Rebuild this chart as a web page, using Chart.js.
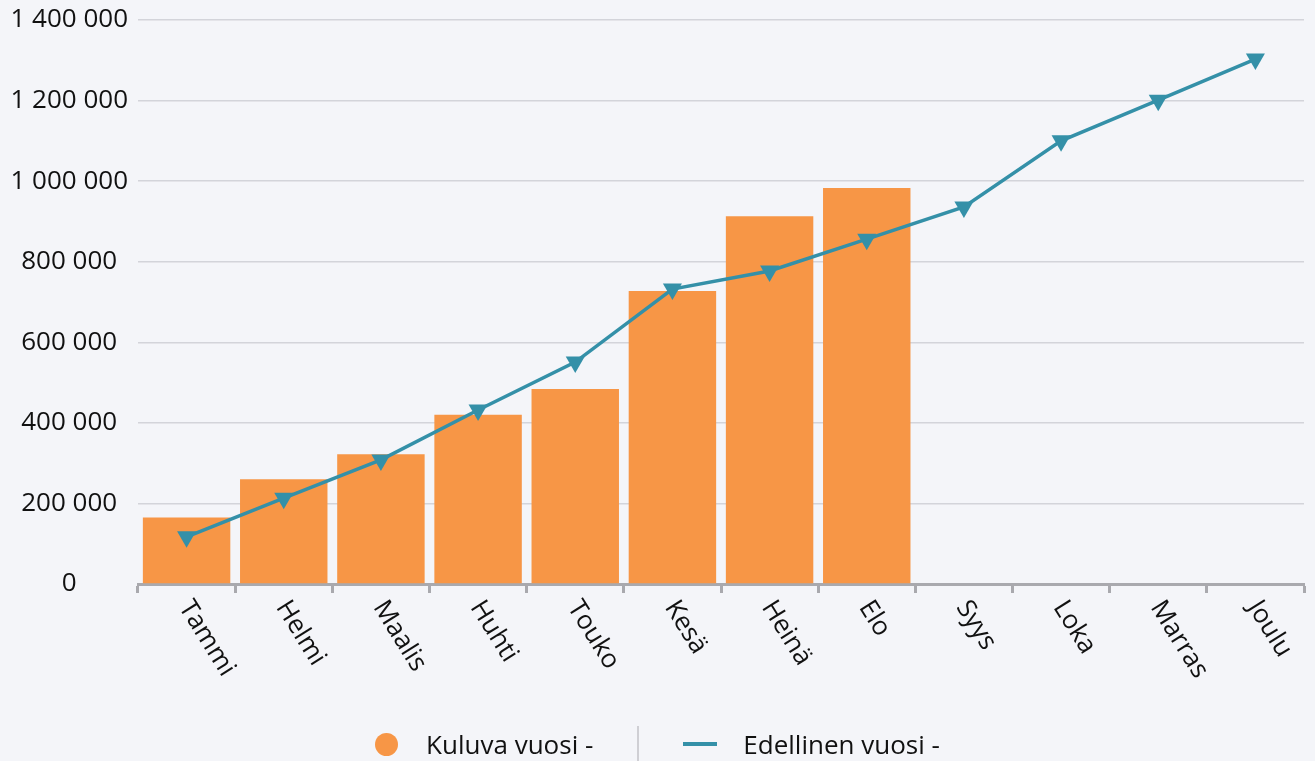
<!DOCTYPE html>
<html>
<head>
<meta charset="utf-8">
<script src="https://cdn.jsdelivr.net/npm/chart.js@4/dist/chart.umd.min.js"></script>
<style>
  html, body { margin: 0; padding: 0; background: #f4f5f9; }
  #wrap { position: relative; width: 1315px; height: 761px; }
  #legend { position: absolute; left: 0; top: 724px; width: 1315px; height: 40px;
    display: flex; justify-content: center; align-items: center;
    font-family: "Open Sans", "Noto Sans", sans-serif; font-size: 26px; color: #111; }
  .item { display: flex; align-items: center; }
  .dot { width: 23px; height: 23px; border-radius: 50%; background: #f79646; margin-right: 28px; }
  .ln { width: 34px; height: 4px; background: #3490a8; margin-right: 26px; }
  .sep { width: 2px; height: 36px; background: #cfcfd4; margin: 0 44px 0 44px; }
</style>
</head>
<body>
<div id="wrap">
  <canvas id="c" width="1315" height="761"></canvas>
  <div id="legend"></div>
</div>
<script>
const categories = ["Tammi", "Helmi", "Maalis", "Huhti", "Touko", "Kesä", "Heinä", "Elo", "Syys", "Loka", "Marras", "Joulu"];
const currentYear = [165000, 260000, 322000, 420000, 484000, 727000, 913000, 983000, null, null, null, null];
const previousYear = [117000, 213000, 308000, 432000, 551000, 732000, 777000, 856000, 936000, 1100000, 1201000, 1303000];
const seriesNames = ["Kuluva vuosi -", "Edellinen vuosi -"];
const yTicks = [0, 200000, 400000, 600000, 800000, 1000000, 1200000, 1400000];

const FONT = '"Open Sans", "Noto Sans", sans-serif';
const fmt = v => String(v).replace(/\B(?=(\d{3})+(?!\d))/g, " ");

// HTML legend
const lg = document.getElementById("legend");
lg.innerHTML =
  '<div class="item"><div class="dot"></div><span>' + seriesNames[0] + '</span></div>' +
  '<div class="sep"></div>' +
  '<div class="item"><div class="ln"></div><span>' + seriesNames[1] + '</span></div>';

const xLabelPlugin = {
  id: "xlabels",
  afterDraw(chart) {
    const ctx = chart.ctx;
    const xs = chart.scales.x;
    ctx.save();
    ctx.font = "26px " + FONT;
    ctx.fillStyle = "#111";
    ctx.textAlign = "left";
    ctx.textBaseline = "middle";
    categories.forEach((lab, i) => {
      const x = xs.getPixelForTick(i);
      ctx.save();
      ctx.translate(x - 2, xs.top + 19);
      ctx.rotate(58 * Math.PI / 180);
      ctx.fillText(lab, 0, 0);
      ctx.restore();
    });
    ctx.restore();
  }
};

new Chart(document.getElementById("c"), {
  data: {
    labels: categories,
    datasets: [
      {
        type: "line",
        label: seriesNames[1],
        data: previousYear,
        borderColor: "#3490a8",
        backgroundColor: "#3490a8",
        borderWidth: 3.5,
        pointStyle: "triangle",
        rotation: 180,
        pointRadius: 11,
        pointHoverRadius: 11,
        pointBorderWidth: 0,
        pointHoverBorderWidth: 0,
        tension: 0,
        order: 0
      },
      {
        type: "bar",
        label: seriesNames[0],
        data: currentYear,
        backgroundColor: "#f79646",
        categoryPercentage: 1.0,
        barPercentage: 0.9,
        order: 1
      }
    ]
  },
  options: {
    responsive: false,
    animation: false,
    layout: { padding: { top: 20, right: 0, left: 1, bottom: 0 } },
    plugins: { legend: { display: false }, tooltip: { enabled: false } },
    scales: {
      x: {
        offset: true,
        afterFit: s => { s.height = 177; s.paddingLeft = 0; s.paddingRight = 0; },
        grid: { offset: true, drawOnChartArea: false, drawTicks: true, tickLength: 9, tickWidth: 3, tickColor: "#a9a9ae" },
        border: { display: true, color: "#a9a9ae", width: 3 },
        ticks: { display: false }
      },
      y: {
        min: 0, max: 1400000,
        afterFit: s => { s.width = 137; s.paddingTop = 0; s.paddingBottom = 0; },
        afterBuildTicks: s => { s.ticks = yTicks.map(v => ({ value: v })); },
        grid: { color: "#d3d4da", lineWidth: 1.5, drawTicks: false },
        border: { display: false },
        ticks: {
          padding: 10,
          crossAlign: "center",
          color: "#111",
          font: { family: FONT, size: 26 },
          callback: v => fmt(v)
        }
      }
    }
  },
  plugins: [xLabelPlugin]
});
</script>
</body>
</html>
